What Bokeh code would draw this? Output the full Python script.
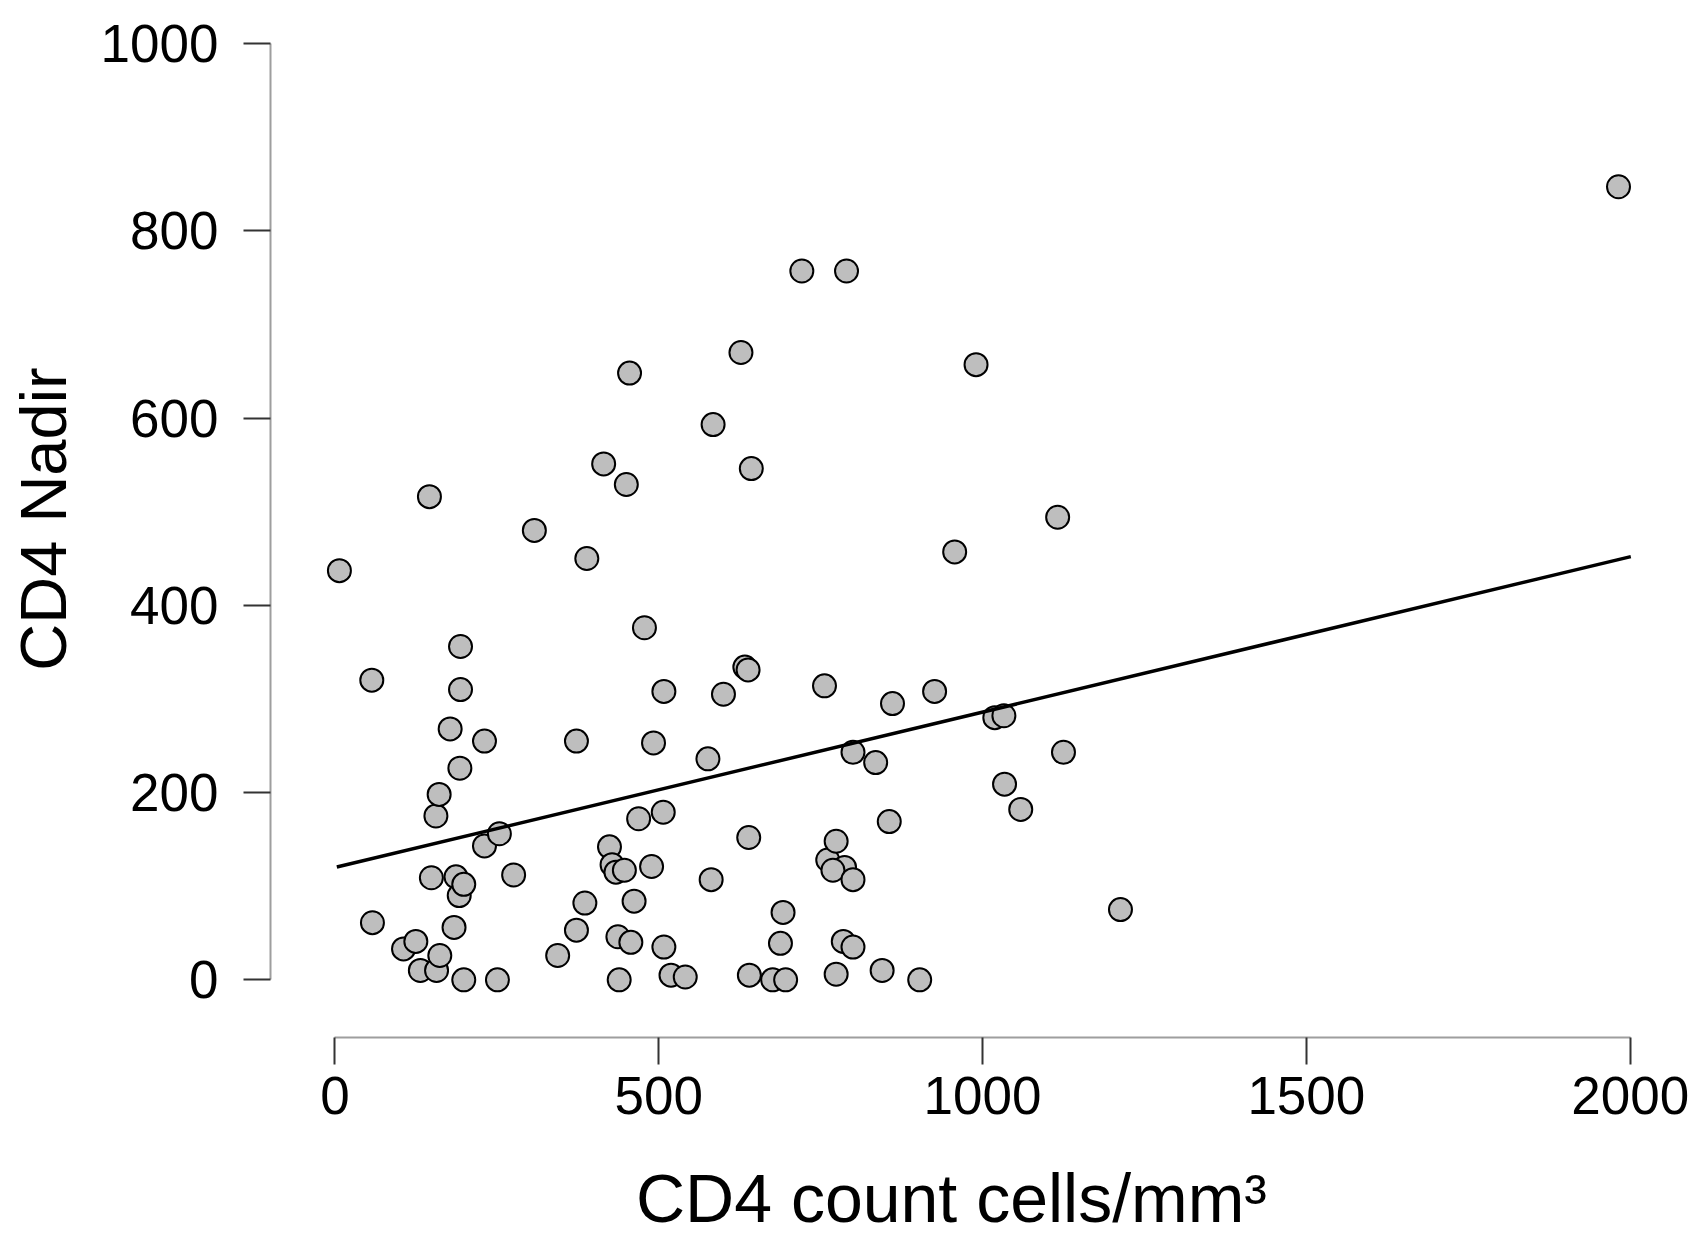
from bokeh.plotting import figure
from bokeh.models import Range1d, FixedTicker
from bokeh.embed import file_html
from bokeh.resources import INLINE

# CD4 count (cells/mm3) vs CD4 nadir, one entry per patient
cd4_count = [
    7, 57, 58, 146, 106, 125, 132, 157, 162, 149,
    156, 161, 178, 184, 187, 192, 199, 193, 194, 194,
    199, 231, 231, 254, 251, 276, 308, 344, 373, 373,
    386, 389, 415, 424, 428, 434, 447, 450, 455, 437,
    439, 457, 462, 469, 478, 489, 492, 507, 508, 508,
    519, 541, 576, 581, 584, 600, 627, 633, 638, 643,
    639, 640, 676, 692, 688, 696, 721, 756, 761, 774,
    787, 769, 774, 785, 790, 800, 800, 800, 835, 845,
    856, 861, 903, 926, 957, 990, 1019, 1033, 1034, 1059,
    1116, 1125, 1213, 1982,
]
cd4_nadir = [
    437, 320, 61, 516, 33, 41, 10, 10, 26, 109,
    175, 198, 268, 56, 110, 90, 102, 226, 310, 356,
    0, 255, 143, 156, 0, 112, 480, 26, 53, 255,
    82, 450, 551, 142, 123, 115, 117, 529, 648, 46,
    0, 40, 84, 172, 376, 121, 253, 179, 308, 35,
    5, 3, 236, 107, 593, 305, 670, 334, 331, 546,
    152, 5, 0, 72, 39, 0, 757, 314, 128, 148,
    120, 117, 6, 41, 757, 243, 107, 35, 232, 10,
    169, 295, 0, 308, 457, 657, 280, 282, 209, 182,
    494, 243, 75, 847,
]

# fitted regression line (end points)
trend_x = [3, 2001]
trend_y = [120.5, 452.0]

x_ticks = [0, 500, 1000, 1500, 2000]
y_ticks = [0, 200, 400, 600, 800, 1000]

FONT = "Liberation Sans"

p = figure(
    width=1702, height=1244,
    output_backend="svg", toolbar_location=None,
    x_range=Range1d(-99.4, 2003.6), y_range=Range1d(-61.6, 1045.9),
    min_border_left=270, min_border_right=70,
    min_border_top=0, min_border_bottom=207,
)
p.outline_line_color = None
p.grid.visible = False
p.background_fill_color = "white"
p.border_fill_color = "white"

p.scatter(cd4_count, cd4_nadir, size=23, fill_color="#BEBEBE",
          line_color="black", line_width=2)
p.line(trend_x, trend_y, line_color="black", line_width=3.5)

p.xaxis.axis_label = "CD4 count cells/mm\u00b3"
p.yaxis.axis_label = "CD4 Nadir"

for ax, ticks, bounds in ((p.xaxis[0], x_ticks, (0, 2000)),
                          (p.yaxis[0], y_ticks, (0, 1000))):
    ax.ticker = FixedTicker(ticks=ticks)
    ax.bounds = bounds
    ax.axis_line_color = "#9e9e9e"
    ax.axis_line_width = 2
    ax.major_tick_line_color = "#333333"
    ax.major_tick_line_width = 2
    ax.major_tick_in = 0
    ax.major_tick_out = 27
    ax.minor_tick_line_color = None
    ax.major_label_text_font = FONT
    ax.major_label_text_font_size = "53px"
    ax.major_label_text_color = "black"
    ax.axis_label_text_font = FONT
    ax.axis_label_text_font_style = "normal"
    ax.axis_label_text_color = "black"

p.xaxis.axis_label_text_font_size = "68px"
p.yaxis.axis_label_text_font_size = "65px"
p.xaxis.major_label_standoff = 12
p.xaxis.axis_label_standoff = 43
p.yaxis.major_label_standoff = 25
p.yaxis.axis_label_standoff = 18

open("out.html", "w").write(file_html(p, INLINE))
